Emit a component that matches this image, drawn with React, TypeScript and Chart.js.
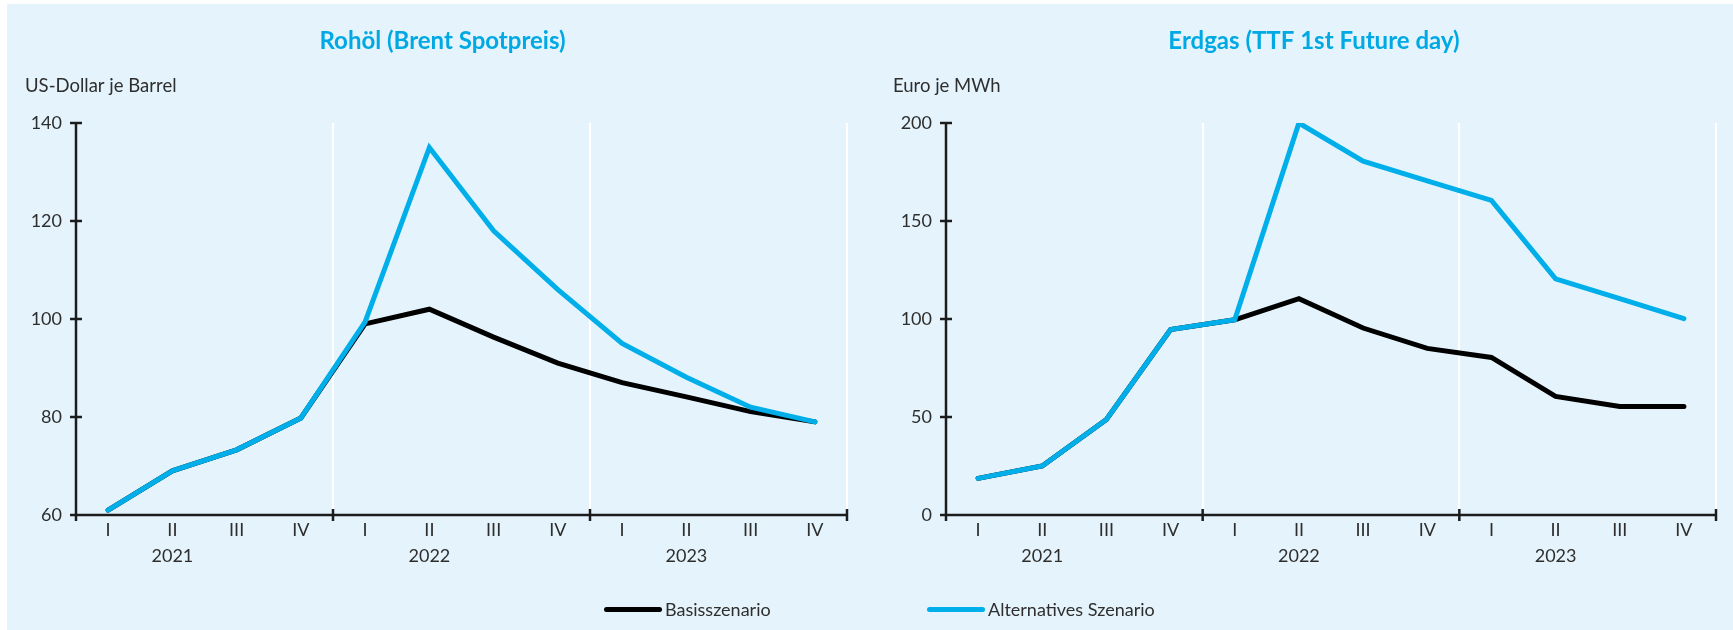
import React, { useEffect, useRef } from "react";
import { Chart, registerables } from "chart.js";

Chart.register(...registerables);

// ---------- data ----------
const quarters = ["I", "II", "III", "IV"];
const years = ["2021", "2022", "2023"];

const oilBasis = [61, 69, 73.3, 79.8, 99, 102, 96.3, 91, 87, 84.1, 81.1, 79];
const oilAlt = [61, 69, 73.3, 79.8, 99.4, 135, 118, 106, 95, 88.1, 82, 79];
const gasBasis = [18.7, 25, 48.7, 94.6, 99.6, 110.4, 95.4, 85, 80.4, 60.5, 55.4, 55.4];
const gasAlt = [18.7, 25, 48.7, 94.6, 99.6, 200, 180.5, 170.5, 160.5, 120.5, 110.4, 100.2];

const oilAxis = [60, 140, 20];
const gasAxis = [0, 200, 50];

const seriesNames = ["Basisszenario", "Alternatives Szenario"];
const titles = ["Rohöl (Brent Spotpreis)", "Erdgas (TTF 1st Future day)"];
const units = ["US-Dollar je Barrel", "Euro je MWh"];

// ---------- styles ----------
const BG = "#e5f4fc";
const BLUE = "#00aeea";
const TITLE_BLUE = "#00a9e4";
const BLACK = "#000000";
const AXIS = "#1c1c1c";
const TEXT = "#2e2e2e";
const FONT = "Lato, 'Open Sans', sans-serif";

const labels = years.flatMap((y) => quarters.map((q, i) => (i === 1 ? [q, y] : q)));

const headerPlugin = {
  id: "header",
  afterDraw(chart: any, _args: any, opts: any) {
    const { ctx, chartArea } = chart;
    ctx.save();
    ctx.fillStyle = TITLE_BLUE;
    ctx.font = `bold 24px ${FONT}`;
    ctx.textAlign = "center";
    ctx.textBaseline = "middle";
    ctx.fillText(opts.title, (chartArea.left + chartArea.right) / 2 + opts.titleDx, opts.titleY);
    ctx.fillStyle = TEXT;
    ctx.font = `18.5px ${FONT}`;
    ctx.textAlign = "left";
    ctx.fillText(opts.unit, chartArea.left + opts.unitDx, opts.unitY);
    ctx.restore();
  },
};

const axesPlugin = {
  id: "axesLines",
  beforeDatasetsDraw(chart: any) {
    const { ctx, chartArea, scales } = chart;
    const x = scales.x;
    const y = scales.y;
    const L = chartArea.left;
    const B = chartArea.bottom;
    const T = y.getPixelForValue(y.max);
    ctx.save();
    ctx.strokeStyle = AXIS;
    ctx.lineWidth = 2.5;
    ctx.lineCap = "butt";
    ctx.beginPath();
    ctx.moveTo(L, T);
    ctx.lineTo(L, B);
    ctx.moveTo(L, B);
    ctx.lineTo(chartArea.right, B);
    y.ticks.forEach((t: any) => {
      const py = y.getPixelForValue(t.value);
      ctx.moveTo(L - 6, py);
      ctx.lineTo(L + 6, py);
    });
    const n = labels.length;
    for (let i = 0; i <= n; i += quarters.length) {
      let px;
      if (i === 0) px = chartArea.left;
      else if (i === n) px = chartArea.right;
      else px = (x.getPixelForValue(i - 1) + x.getPixelForValue(i)) / 2;
      ctx.moveTo(px, B - 6);
      ctx.lineTo(px, B + 6);
    }
    ctx.stroke();
    ctx.restore();
  },
};

type PanelProps = {
  left: number;
  width: number;
  padLeft: number;
  padRight: number;
  title: string;
  unit: string;
  titleDx: number;
  unitDx: number;
  basis: number[];
  alt: number[];
  axis: number[];
};

function ChartPanel(p: PanelProps) {
  const ref = useRef<HTMLCanvasElement | null>(null);
  useEffect(() => {
    if (!ref.current) return;
    const chart = new Chart(ref.current, {
      type: "line",
      data: {
        labels,
        datasets: [
          {
            label: seriesNames[0],
            data: p.basis,
            borderColor: BLACK,
            backgroundColor: BLACK,
            borderWidth: 5,
            pointRadius: 0,
            tension: 0,
            borderCapStyle: "round",
            order: 2,
          },
          {
            label: seriesNames[1],
            data: p.alt,
            borderColor: BLUE,
            backgroundColor: BLUE,
            borderWidth: 5,
            pointRadius: 0,
            tension: 0,
            borderCapStyle: "round",
            order: 1,
          },
        ],
      },
      options: {
        responsive: false,
        animation: false,
        layout: { padding: { top: 123, bottom: 30, left: p.padLeft, right: p.padRight } },
        plugins: {
          legend: { display: false },
          tooltip: { enabled: false },
          header: {
            title: p.title,
            unit: p.unit,
            titleDx: p.titleDx,
            unitDx: p.unitDx,
            titleY: 41,
            unitY: 86,
          },
        } as any,
        scales: {
          x: {
            type: "category",
            offset: true,
            border: { display: false },
            grid: {
              display: true,
              offset: true,
              drawOnChartArea: true,
              drawTicks: false,
              lineWidth: 2,
              color: (ctx: any) => {
                const i = ctx.index;
                if (i === undefined) return "#ffffff";
                return i !== 0 && i % quarters.length === 0 ? "#ffffff" : "rgba(0,0,0,0)";
              },
            },
            ticks: {
              autoSkip: false,
              maxRotation: 0,
              padding: 2,
              color: TEXT,
              font: { family: FONT, size: 18, lineHeight: "26px" } as any,
            },
            afterFit: (s: any) => {
              s.height = 55;
              s.paddingLeft = 0;
              s.paddingRight = 0;
            },
          },
          y: {
            min: p.axis[0],
            max: p.axis[1],
            border: { display: false },
            grid: { display: false, drawTicks: false },
            ticks: {
              stepSize: p.axis[2],
              padding: 14,
              color: TEXT,
              font: { family: FONT, size: 18 },
            },
            afterFit: (s: any) => {
              s.width = 60;
              s.paddingTop = 0;
              s.paddingBottom = 0;
            },
          },
        },
      },
      plugins: [headerPlugin as any, axesPlugin as any],
    } as any);
    return () => chart.destroy();
  }, []);
  return (
    <canvas
      ref={ref}
      width={p.width}
      height={600}
      style={{ position: "absolute", left: p.left, top: 0, width: p.width, height: 600 }}
    />
  );
}

function LegendItem({ left, color, text }: { left: number; color: string; text: string }) {
  return (
    <div style={{ position: "absolute", left, top: 597, height: 24, display: "flex", alignItems: "center" }}>
      <div style={{ width: 58, height: 5, borderRadius: 3, background: color, marginRight: 3 }} />
      <span style={{ font: `18px ${FONT}`, color: TEXT, whiteSpace: "nowrap" }}>{text}</span>
    </div>
  );
}

export default function App() {
  return (
    <div
      style={{
        position: "absolute",
        left: 0,
        top: 0,
        width: 1733,
        height: 630,
        overflow: "hidden",
        background: "#ffffff",
      }}
    >
      <div style={{ position: "absolute", left: 7, top: 4, right: 0, bottom: 0, background: BG }} />
      <ChartPanel
        left={0}
        width={866}
        padLeft={16}
        padRight={19}
        title={titles[0]}
        unit={units[0]}
        titleDx={-19}
        unitDx={-51}
        basis={oilBasis}
        alt={oilAlt}
        axis={oilAxis}
      />
      <ChartPanel
        left={866}
        width={867}
        padLeft={20}
        padRight={17}
        title={titles[1]}
        unit={units[1]}
        titleDx={-17}
        unitDx={-53}
        basis={gasBasis}
        alt={gasAlt}
        axis={gasAxis}
      />
      <LegendItem left={604} color={BLACK} text={seriesNames[0]} />
      <LegendItem left={927} color={BLUE} text={seriesNames[1]} />
    </div>
  );
}
